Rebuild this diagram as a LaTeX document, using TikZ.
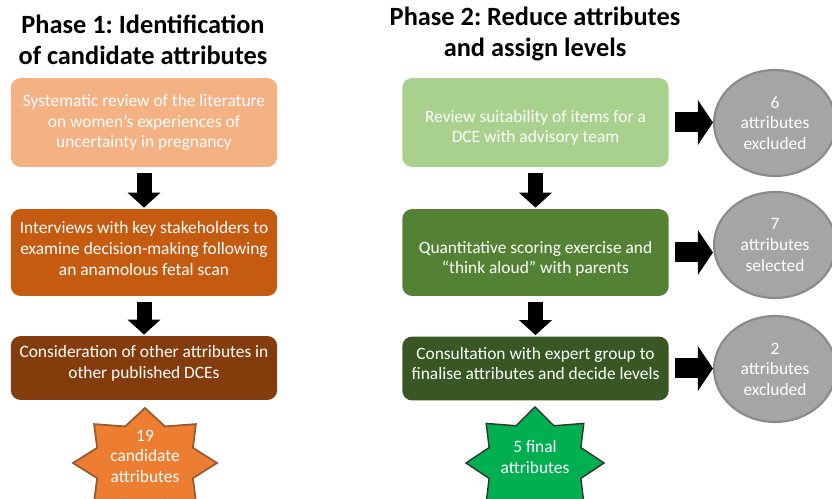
\documentclass[tikz,border=0pt]{standalone}
\usepackage{fontspec}
\setmainfont{Carlito}
\usepackage{xcolor}
\usepackage{tikz}
\usetikzlibrary{arrows.meta}
\usetikzlibrary{shapes.geometric, calc}
\frenchspacing

\definecolor{orangeA}{HTML}{F4B183}
\definecolor{orangeB}{HTML}{C55A11}
\definecolor{orangeC}{HTML}{843C0C}
\definecolor{orangeS}{HTML}{ED7D31}
\definecolor{greenA}{HTML}{A9D18E}
\definecolor{greenB}{HTML}{548235}
\definecolor{greenC}{HTML}{385723}
\definecolor{greenS}{HTML}{00B050}
\definecolor{greyC}{HTML}{A5A5A5}
\definecolor{greyE}{HTML}{8A8A8A}

\begin{document}
\begin{tikzpicture}[x=0.02cm, y=-0.02cm,
    title/.style={align=center, font=\fontsize{15}{17.6}\selectfont\bfseries},
    box/.style={rounded corners=0.2cm, minimum width=5.33cm, align=center,
      text=white, inner sep=0pt, font=\fontsize{9.9}{11.7}\selectfont},
    result/.style={ellipse, fill=greyC, draw=greyE, line width=1.2pt,
      minimum width=2.44cm, minimum height=2.12cm, inner sep=0pt,
      align=center, text=white, font=\fontsize{9.9}{11.7}\selectfont},
    startext/.style={align=center, text=white, font=\fontsize{9.9}{11.7}\selectfont},
    downarrow/.style={line width=0.3cm, -{Triangle[length=0.3cm, width=0.64cm]},
      shorten <=0.12cm, shorten >=0.02cm},
    sidearrow/.style={line width=0.4cm, -{Triangle[length=0.3cm, width=0.88cm]},
      shorten <=0.12cm}]
  \clip (0,0) rectangle (832,499);

  % Titles
  \node[title] (t1) at (143,40) {Phase 1: Identification\\of candidate attributes};
  \node[title] (t2) at (535,34) {Phase 2: Reduce attributes\\and assign levels};

  % Phase 1
  \node[box, fill=orangeA, minimum height=1.78cm] (l1) at (144,122.5)
    {Systematic review of the literature\\on women’s experiences of\\uncertainty in pregnancy};
  \node[box, fill=orangeB, minimum height=1.74cm] (l2) at (144,252.5)
    {Interviews with key stakeholders to\\examine decision-making following\\an anamolous fetal scan\rule[-0.16cm]{0pt}{0pt}};
  \node[box, fill=orangeC, minimum height=1.28cm] (l3) at (144,368)
    {Consideration of other attributes in\\other published DCEs\rule[-0.24cm]{0pt}{0pt}};

  % Phase 2
  \node[box, fill=greenA, minimum height=1.78cm] (r1) at (535.5,122.5)
    {\rule{0pt}{0.46cm}Review suitability of items for a\\DCE with advisory team};
  \node[box, fill=greenB, minimum height=1.74cm] (r2) at (535.5,252.5)
    {\rule{0pt}{0.5cm}Quantitative scoring exercise and\\“think aloud” with parents};
  \node[box, fill=greenC, minimum height=1.28cm] (r3) at (535.5,368.5)
    {Consultation with expert group to\\finalise attributes and decide levels\rule[-0.2cm]{0pt}{0pt}};

  % Results
  \node[result] (c1) at (775,123) {6\\attributes\\excluded};
  \node[result] (c2) at (775,245) {7\\attributes\\selected};
  \node[result] (c3) at (775,369) {2\\attributes\\excluded};

  % Arrows
  \draw[downarrow] (l1.south) -- (l2.north);
  \draw[downarrow] (l2.south) -- (l3.north);
  \draw[downarrow] (r1.south) -- (r2.north);
  \draw[downarrow] (r2.south) -- (r3.north);
  \draw[sidearrow] (r1.east) -- (r1.east -| c1.west);
  \draw[sidearrow] (r2.east) -- (r2.east -| c2.west);
  \draw[sidearrow] (r3.east) -- (r3.east -| c3.west);

  % Stars
  \begin{scope}[shift={(145,463)}]
    \filldraw[fill=orangeS, draw=orangeC!85, line width=1pt] (0:72)
      \foreach \k [evaluate=\k as \f using {1-0.28*mod(\k,2)}] in {1,...,15}
      { -- ({22.5*\k}:{72*\f} and {55*\f}) } -- cycle;
  \end{scope}
  \begin{scope}[shift={(535,463)}]
    \filldraw[fill=greenS, draw=black!80, line width=0.8pt] (0:69)
      \foreach \k [evaluate=\k as \f using {1-0.28*mod(\k,2)}] in {1,...,15}
      { -- ({22.5*\k}:{69*\f} and {56*\f}) } -- cycle;
  \end{scope}
  \node[startext] (s1) at (145,456) {19\\candidate\\attributes};
  \node[startext] (s2) at (535,457) {5 final\\attributes};
\end{tikzpicture}
\end{document}
